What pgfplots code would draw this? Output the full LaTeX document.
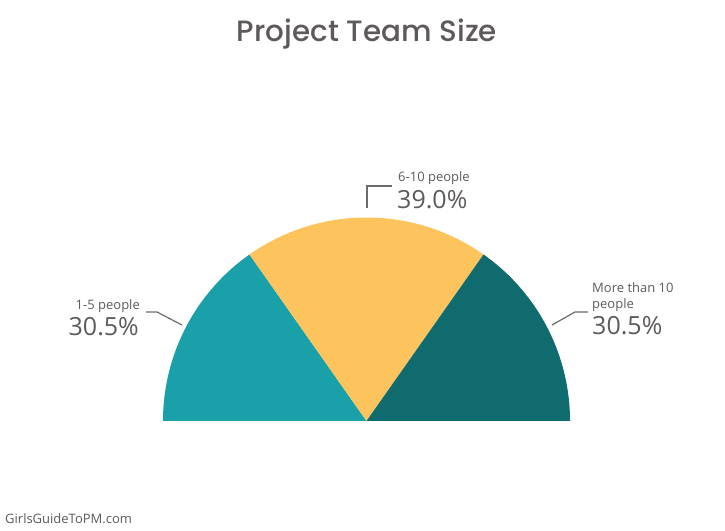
\documentclass[border=0pt]{standalone}
\usepackage{pgfplots}
\usepackage{pgfplotstable}
\pgfplotsset{compat=1.18}
\usepackage{fontspec}
\setmainfont{Open Sans}
\newfontfamily\titlefont{Poppins Medium}
\definecolor{cA}{HTML}{1AA0A8}
\definecolor{cB}{HTML}{FDC45E}
\definecolor{cC}{HTML}{0F6B6E}
\definecolor{txt}{HTML}{5F5A5A}
\definecolor{lead}{HTML}{6E6A6A}
\pgfplotstableread{
label share
A 30.5
B 39.0
C 30.5
}\slices
\begin{document}
\begin{tikzpicture}
\pgfplotstablegetelem{0}{share}\of\slices \let\sA\pgfplotsretval
\pgfplotstablegetelem{1}{share}\of\slices \let\sB\pgfplotsretval
\pgfplotstablegetelem{2}{share}\of\slices \let\sC\pgfplotsretval
\pgfmathsetmacro\angA{180-180*\sA/100}
\pgfmathsetmacro\angB{\angA-180*\sB/100}
\begin{axis}[hide axis, scale only axis, width=725pt, height=530pt,
  xmin=0, xmax=725, ymin=0, ymax=530, clip=false]
\fill[white] (axis cs:0,0) rectangle (axis cs:725,530);
% wedges
\fill[cA] (axis cs:366.5,109) -- ++(180:203.5pt) arc[start angle=180, end angle=\angA, radius=203.5pt] -- cycle;
\fill[cB] (axis cs:366.5,109) -- ++(\angA:203.5pt) arc[start angle=\angA, end angle=\angB, radius=203.5pt] -- cycle;
\fill[cC] (axis cs:366.5,109) -- ++(\angB:203.5pt) arc[start angle=\angB, end angle=0, radius=203.5pt] -- cycle;
% leader lines
\draw[lead, line width=1.2pt] (axis cs:146,218) -- (axis cs:157,218) -- (axis cs:182,205);
\draw[lead, line width=1.2pt] (axis cs:588,218) -- (axis cs:575,218) -- (axis cs:552,205);
\draw[lead, line width=1.2pt] (axis cs:392,344) -- (axis cs:367,344) -- (axis cs:367,322);
% labels
\node[anchor=base east, inner sep=0, text=txt, font=\fontsize{13}{15}\selectfont] at (axis cs:140,220) {1-5 people};
\node[anchor=base east, inner sep=0, text=txt, font=\fontsize{25}{28}\selectfont] at (axis cs:139,194) {\sA\%};
\node[anchor=base west, inner sep=0, text=txt, font=\fontsize{13}{15}\selectfont] at (axis cs:398,348) {6-10 people};
\node[anchor=base west, inner sep=0, text=txt, font=\fontsize{25}{28}\selectfont] at (axis cs:397,321) {\sB\%};
\node[anchor=base west, inner sep=0, text=txt, font=\fontsize{13}{15}\selectfont] at (axis cs:592,237) {More than 10};
\node[anchor=base west, inner sep=0, text=txt, font=\fontsize{13}{15}\selectfont] at (axis cs:592,221) {people};
\node[anchor=base west, inner sep=0, text=txt, font=\fontsize{25}{28}\selectfont] at (axis cs:592,195) {\sC\%};
% title and footer
\node[anchor=base, inner sep=0, text=txt, font=\titlefont\fontsize{29.4}{33}\selectfont] at (axis cs:367,488) {Project Team Size};
\node[anchor=base west, inner sep=0, text=txt, font=\fontsize{13}{15}\selectfont] at (axis cs:5,7) {GirlsGuideToPM.com};
\end{axis}
\end{tikzpicture}
\end{document}
